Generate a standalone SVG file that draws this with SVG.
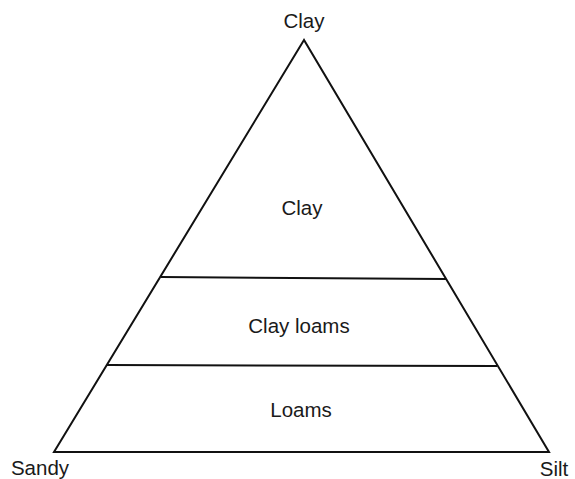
<svg xmlns="http://www.w3.org/2000/svg" width="575" height="479" viewBox="0 0 575 479">
<style>
.l{fill:none;stroke:#111;stroke-width:2;stroke-linejoin:miter}
text{font-family:"Liberation Sans",Arial,sans-serif;font-size:20.5px;fill:#1a1a1a;text-anchor:middle}
</style>
<rect width="575" height="479" fill="#fff"/>
<g id="connectors">
<path class="l" d="M304,40 L54,452 L549,452 Z"/>
<line class="l" x1="161" y1="277" x2="446" y2="279"/>
<line class="l" x1="107" y1="365" x2="497" y2="366"/>
</g>
<g id="top-label"><text x="304" y="28">Clay</text></g>
<g id="clay"><text x="302" y="215">Clay</text></g>
<g id="clay-loams"><text x="299" y="333">Clay loams</text></g>
<g id="loams"><text x="301" y="417">Loams</text></g>
<g id="sandy"><text x="40" y="475">Sandy</text></g>
<g id="silt"><text x="554" y="476">Silt</text></g>
</svg>
